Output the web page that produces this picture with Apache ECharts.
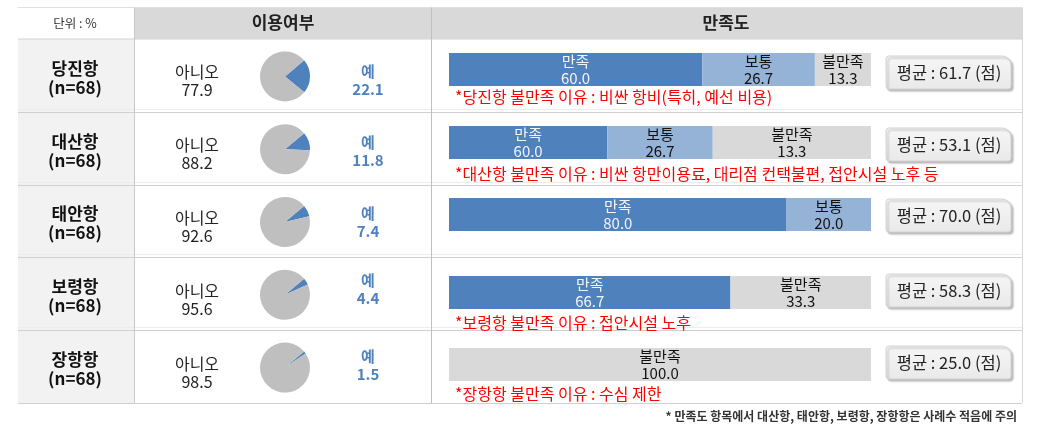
<!DOCTYPE html>
<html><head><meta charset="utf-8">
<script src="https://cdn.jsdelivr.net/npm/echarts@6/dist/echarts.min.js"></script>
<style>html,body{margin:0;padding:0;background:#fff}#c{width:1045px;height:445px}</style>
</head><body><div id="c"></div>
<script>
// ---- data ----
const ports = ['당진항', '대산항', '태안항', '보령항', '장항항'];
const sampleLabel = ['(n=68)', '(n=68)', '(n=68)', '(n=68)', '(n=68)'];
const usageNo = [77.9, 88.2, 92.6, 95.6, 98.5];
const usageYes = [22.1, 11.8, 7.4, 4.4, 1.5];
const satCategories = ['만족', '보통', '불만족'];
const satisfied = [60.0, 37.5, 80.0, 66.7, 0];
const neutral = [26.7, 25.0, 20.0, 0, 0];
const dissatisfied = [13.3, 37.5, 0, 33.3, 100.0];
const satisfiedText = ['60.0', '60.0', '80.0', '66.7', ''];
const neutralText = ['26.7', '26.7', '20.0', '', ''];
const dissatisfiedText = ['13.3', '13.3', '', '33.3', '100.0'];
const avgScore = ['61.7', '53.1', '70.0', '58.3', '25.0'];
const reasons = [
  '*당진항 불만족 이유 : 비싼 항비(특히, 예선 비용)',
  '*대산항 불만족 이유 : 비싼 항만이용료, 대리점 컨택불편, 접안시설 노후 등',
  '',
  '*보령항 불만족 이유 : 접안시설 노후',
  '*장항항 불만족 이유 : 수심 제한'
];
const headerUnit = '단위 : %';
const headerUsage = '이용여부';
const headerSat = '만족도';
const noLabel = '아니오';
const yesLabel = '예';
const footnote = '* 만족도 항목에서 대산항, 태안항, 보령항, 장항항은 사례수 적음에 주의';

// ---- layout ----
const FONT = '"Noto Sans CJK KR", "Noto Sans", sans-serif';
const tableL = 18, tableR = 1022, tableT = 7.5, headB = 39, rowH = 72.8;
const col1 = 134, col2 = 431;
const barL = 449, barW = 422, barH = 33;
const barTops = [53, 126, 198, 276, 348];
const boxTops = [56, 128, 199, 274, 346];
const reasonY = [97, 174, 0, 323, 394];
const yesOff = [-4, -6, -8, -14, -10];
const BLUE = '#4f81bd', LBLUE = '#95b3d7', GRAY = '#d9d9d9', PIEGRAY = '#bfbfbf';

const g = [];
g.push({type: 'rect', shape: {x: col1, y: tableT, width: tableR - col1, height: headB - tableT}, style: {fill: '#d9d9d9'}, z: 0});
g.push({type: 'rect', shape: {x: tableL, y: headB, width: col1 - tableL, height: rowH * 5}, style: {fill: '#f2f2f2'}, z: 0});
const hl = (y, c) => g.push({type: 'line', shape: {x1: tableL, y1: y, x2: tableR, y2: y}, style: {stroke: c, lineWidth: 1}, z: 1});
hl(tableT, '#e0e0e0');
hl(headB, '#d4d4d4');
for (let i = 1; i <= 5; i++) {
  const y = Math.round(headB + rowH * i) + 0.5;
  hl(y, '#d0d0d0');
  if (i < 5) hl(y - 3, '#ececec');
}
const vl = (x, c) => g.push({type: 'line', shape: {x1: x, y1: tableT, x2: x, y2: headB + rowH * 5}, style: {stroke: c, lineWidth: 1}, z: 1});
vl(col1 + 0.5, '#c8c8c8');
vl(col2 + 0.5, '#c0c0c0');
vl(tableR + 0.5, '#d8d8d8');

const txt = (x, y, text, font, fill, align) => g.push({type: 'text', x: x, y: y, z: 5,
  style: {text: text, font: font, fill: fill, textAlign: align || 'center', textVerticalAlign: 'middle'}});

txt(75, 23, headerUnit, '12.5px ' + FONT, '#333');
txt(283, 23, headerUsage, 'bold 17px ' + FONT, '#222');
txt(726, 23, headerSat, 'bold 17px ' + FONT, '#222');

const pieSeries = [];
ports.forEach((p, i) => {
  const cy = headB + rowH * i + rowH / 2;
  txt(75, cy - 7, p, 'bold 17px ' + FONT, '#111');
  txt(75, cy + 12, sampleLabel[i], 'bold 17px ' + FONT, '#111');
  txt(197, cy - 3, noLabel, '16px ' + FONT, '#222');
  txt(197, cy + 15, usageNo[i].toFixed(1), '16px ' + FONT, '#222');
  txt(368, cy + yesOff[i], yesLabel, 'bold 15px ' + FONT, BLUE);
  txt(368, cy + yesOff[i] + 18, usageYes[i].toFixed(1), 'bold 15px ' + FONT, BLUE);
  g.push({type: 'rect', shape: {x: 886, y: boxTops[i], width: 125, height: 33, r: [3, 9, 3, 3]}, z: 2,
    style: {fill: new echarts.graphic.LinearGradient(0, 0, 0, 1, [{offset: 0, color: '#f6f6f6'}, {offset: 1, color: '#e9e9e9'}]),
      stroke: '#d2d2d2', lineWidth: 1, shadowBlur: 2, shadowOffsetX: 2, shadowOffsetY: 2, shadowColor: 'rgba(0,0,0,0.25)'}});
  txt(949, boxTops[i] + 17, '평균 : ' + avgScore[i] + ' (점)', '16.5px ' + FONT, '#222');
  if (reasons[i]) txt(455, reasonY[i], reasons[i], '16px ' + FONT, '#ff0000', 'left');
  pieSeries.push({
    type: 'pie', center: [285, cy + 1], radius: 25, startAngle: 40, clockwise: true,
    label: {show: false}, labelLine: {show: false}, silent: true, animation: false,
    itemStyle: {borderWidth: 0},
    data: [{name: yesLabel, value: usageYes[i], itemStyle: {color: BLUE}},
           {name: noLabel, value: usageNo[i], itemStyle: {color: PIEGRAY}}]
  });
});
txt(1017, 416, footnote, 'bold 12px ' + FONT, '#333', 'right');

const grids = [], xAxes = [], yAxes = [], barSeries = [];
const satVals = [satisfied, neutral, dissatisfied];
const satTexts = [satisfiedText, neutralText, dissatisfiedText];
const satColors = [BLUE, LBLUE, GRAY];
const satLabelColors = ['#f4f4f4', '#111', '#111'];
ports.forEach((p, i) => {
  grids.push({left: barL, top: barTops[i], width: barW, height: barH});
  xAxes.push({type: 'value', gridIndex: i, min: 0, max: 100, show: false});
  yAxes.push({type: 'category', gridIndex: i, data: [p], show: false});
  satCategories.forEach((c, k) => {
    const v = satVals[k][i];
    barSeries.push({
      type: 'bar', name: c, stack: 's' + i, xAxisIndex: i, yAxisIndex: i,
      barWidth: '100%', animation: false, silent: true,
      itemStyle: {color: satColors[k]},
      label: {show: v > 0, position: 'inside', color: satLabelColors[k], fontFamily: FONT, fontSize: 15, lineHeight: 17,
        formatter: () => c + '\n' + satTexts[k][i]},
      data: [{value: v}]
    });
  });
});

const chart = echarts.init(document.getElementById('c'));
chart.setOption({
  animation: false,
  grid: grids, xAxis: xAxes, yAxis: yAxes,
  graphic: {elements: g},
  series: barSeries.concat(pieSeries)
});
</script></body></html>
